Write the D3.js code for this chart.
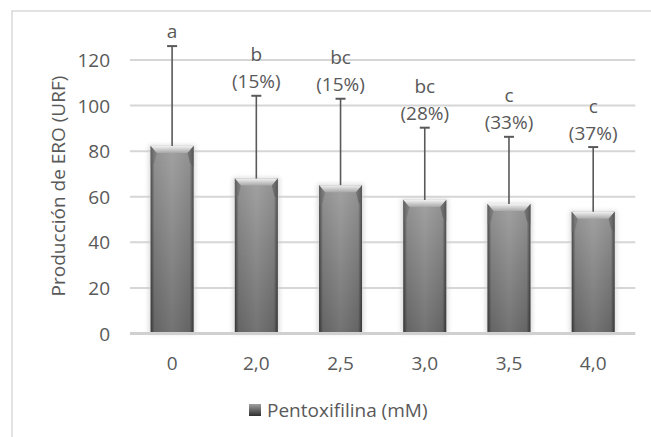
<!DOCTYPE html>
<html>
<head>
<meta charset="utf-8">
<script src="https://cdn.jsdelivr.net/npm/d3@7"></script>
<style>
  html, body { margin: 0; padding: 0; background: #fff; }
  svg { display: block; }
  text { font-family: "Open Sans", Lato, sans-serif; fill: #595959; }
</style>
</head>
<body>
<svg id="chart" width="651" height="437"></svg>
<script>
// Pentoxifilina concentration (mM) and ERO production (URF)
const categories = ["0", "2,0", "2,5", "3,0", "3,5", "4,0"];
const means      = [82.3, 68, 65.1, 58.6, 56.8, 53.4];
const upperBars  = [126.1, 104.3, 103, 90.3, 86.3, 81.8];   // mean + SD
const letters    = ["a", "b", "bc", "bc", "c", "c"];
const reductions = ["", "(15%)", "(15%)", "(28%)", "(33%)", "(37%)"];
const yTicks     = [0, 20, 40, 60, 80, 100, 120];
const yTitle     = "Producción de ERO (URF)";
const legendLabel = "Pentoxifilina (mM)";

const FONT = 19;
const svg = d3.select("#chart");
const plot = { left: 130, right: 635.3, top: 60, bottom: 333.5 };

const x = d3.scaleBand()
  .domain(categories)
  .range([plot.left, plot.right])
  .paddingInner(0.49)
  .paddingOuter(0.245);

const y = d3.scaleLinear().domain([0, 120]).range([plot.bottom, plot.top]);

// gradients and shadow
const defs = svg.append("defs");
const vg = defs.append("linearGradient").attr("id", "barBody").attr("x1", 0).attr("y1", 0).attr("x2", 0).attr("y2", 1);
vg.append("stop").attr("offset", "0%").attr("stop-color", "#9c9c9c");
vg.append("stop").attr("offset", "100%").attr("stop-color", "#6a6a6a");
const hg = defs.append("linearGradient").attr("id", "barEdges").attr("x1", 0).attr("y1", 0).attr("x2", 1).attr("y2", 0);
hg.append("stop").attr("offset", "0%").attr("stop-color", "#000").attr("stop-opacity", 0.5);
hg.append("stop").attr("offset", "9%").attr("stop-color", "#000").attr("stop-opacity", 0.06);
hg.append("stop").attr("offset", "50%").attr("stop-color", "#fff").attr("stop-opacity", 0.06);
hg.append("stop").attr("offset", "91%").attr("stop-color", "#000").attr("stop-opacity", 0.06);
hg.append("stop").attr("offset", "100%").attr("stop-color", "#000").attr("stop-opacity", 0.5);
const tg = defs.append("linearGradient").attr("id", "barTop").attr("x1", 0).attr("y1", 0).attr("x2", 0).attr("y2", 1);
tg.append("stop").attr("offset", "0%").attr("stop-color", "#f2f2f2");
tg.append("stop").attr("offset", "100%").attr("stop-color", "#a8a8a8");
const lg = defs.append("linearGradient").attr("id", "legendSwatch").attr("x1", 0).attr("y1", 0).attr("x2", 0).attr("y2", 1);
lg.append("stop").attr("offset", "0%").attr("stop-color", "#a0a0a0");
lg.append("stop").attr("offset", "100%").attr("stop-color", "#2e2e2e");
const blur = defs.append("filter").attr("id", "glow").attr("x", "-30%").attr("y", "-10%").attr("width", "160%").attr("height", "120%");
blur.append("feGaussianBlur").attr("stdDeviation", 2.2);

// outer chart frame
svg.append("rect")
  .attr("x", 12).attr("y", 11).attr("width", 700).attr("height", 500)
  .attr("fill", "none").attr("stroke", "#d9d9d9").attr("stroke-width", 1.5);

// gridlines
svg.append("g").selectAll("line").data(yTicks.filter(d => d > 0)).join("line")
  .attr("x1", plot.left).attr("x2", plot.right)
  .attr("y1", d => y(d)).attr("y2", d => y(d))
  .attr("stroke", "#d6d6d6").attr("stroke-width", 2);

// y axis tick labels
const yAxis = d3.axisLeft(y).tickValues(yTicks).tickSize(0).tickPadding(0);
const yg = svg.append("g").attr("transform", "translate(110,0)").call(yAxis);
yg.select(".domain").remove();
yg.selectAll("text").attr("font-size", FONT).style("font-family", "'Open Sans', sans-serif").attr("fill", "#595959").attr("dy", "0.35em");

// bars
const bw = x.bandwidth();
const bars = svg.append("g").selectAll("g").data(categories).join("g");
bars.append("rect")
  .attr("x", d => x(d) - 2).attr("width", bw + 4)
  .attr("y", (d, i) => y(means[i]) - 1)
  .attr("height", (d, i) => y(0) - y(means[i]) + 1)
  .attr("fill", "#cdcdcd").attr("opacity", 0.7).attr("filter", "url(#glow)");
bars.append("rect")
  .attr("x", d => x(d)).attr("width", bw)
  .attr("y", (d, i) => y(means[i]))
  .attr("height", (d, i) => y(0) - y(means[i]))
  .attr("fill", "url(#barBody)");
bars.append("rect")
  .attr("x", d => x(d)).attr("width", bw)
  .attr("y", (d, i) => y(means[i]))
  .attr("height", (d, i) => y(0) - y(means[i]))
  .attr("fill", "url(#barEdges)");
// bevelled top face
const bev = 7, inset = 6;
bars.append("path")
  .attr("d", (d, i) => {
    const x0 = x(d), x1 = x(d) + bw, t = y(means[i]);
    return `M${x0},${t}L${x1},${t}L${x1 - inset},${t + bev}L${x0 + inset},${t + bev}Z`;
  })
  .attr("fill", "url(#barTop)");
bars.append("path")
  .attr("d", (d, i) => {
    const x0 = x(d), t = y(means[i]);
    return `M${x0},${t}L${x0 + inset},${t + bev}L${x0 + inset * 0.6},${t + bev + 10}L${x0},${t + bev + 14}Z`;
  })
  .attr("fill", "#6a6a6a").attr("opacity", 0.55);
bars.append("path")
  .attr("d", (d, i) => {
    const x1 = x(d) + bw, t = y(means[i]);
    return `M${x1},${t}L${x1 - inset},${t + bev}L${x1 - inset * 0.6},${t + bev + 10}L${x1},${t + bev + 14}Z`;
  })
  .attr("fill", "#5a5a5a").attr("opacity", 0.6);

// baseline
svg.append("line")
  .attr("x1", plot.left).attr("x2", plot.right)
  .attr("y1", y(0)).attr("y2", y(0))
  .attr("stroke", "#d0d0d0").attr("stroke-width", 3);

// error bars
const eb = svg.append("g");
categories.forEach((c, i) => {
  const cx = x(c) + bw / 2;
  eb.append("line")
    .attr("x1", cx).attr("x2", cx)
    .attr("y1", y(means[i])).attr("y2", y(upperBars[i]))
    .attr("stroke", "#595959").attr("stroke-width", 1.6);
  eb.append("line")
    .attr("x1", cx - 5).attr("x2", cx + 5)
    .attr("y1", y(upperBars[i])).attr("y2", y(upperBars[i]))
    .attr("stroke", "#595959").attr("stroke-width", 2);
});

// significance letters and reduction percentages
const lab = svg.append("g").attr("text-anchor", "middle").attr("font-size", FONT);
categories.forEach((c, i) => {
  const cx = x(c) + bw / 2;
  const capY = y(upperBars[i]);
  if (reductions[i]) {
    lab.append("text").attr("x", cx).attr("y", capY - 14).attr("dy", "0.35em").text(reductions[i]);
    lab.append("text").attr("x", cx).attr("y", capY - 41).attr("dy", "0.35em").text(letters[i]);
  } else {
    lab.append("text").attr("x", cx).attr("y", capY - 15).attr("dy", "0.35em").text(letters[i]);
  }
});

// x axis category labels
const xAxis = d3.axisBottom(x).tickSize(0).tickPadding(0);
const xg = svg.append("g").attr("transform", "translate(0,363)").call(xAxis);
xg.select(".domain").remove();
xg.selectAll("text").attr("font-size", FONT).style("font-family", "'Open Sans', sans-serif").attr("fill", "#595959").attr("dy", "0.35em");

// y axis title
svg.append("text")
  .attr("transform", `translate(58,186) rotate(-90)`)
  .attr("text-anchor", "middle").attr("dy", "0.35em")
  .attr("font-size", FONT)
  .text(yTitle);

// legend
svg.append("rect").attr("x", 249).attr("y", 404).attr("width", 12).attr("height", 12)
  .attr("fill", "url(#legendSwatch)");
svg.append("text").attr("x", 267).attr("y", 410).attr("dy", "0.35em")
  .attr("font-size", FONT).text(legendLabel);
</script>
</body>
</html>
